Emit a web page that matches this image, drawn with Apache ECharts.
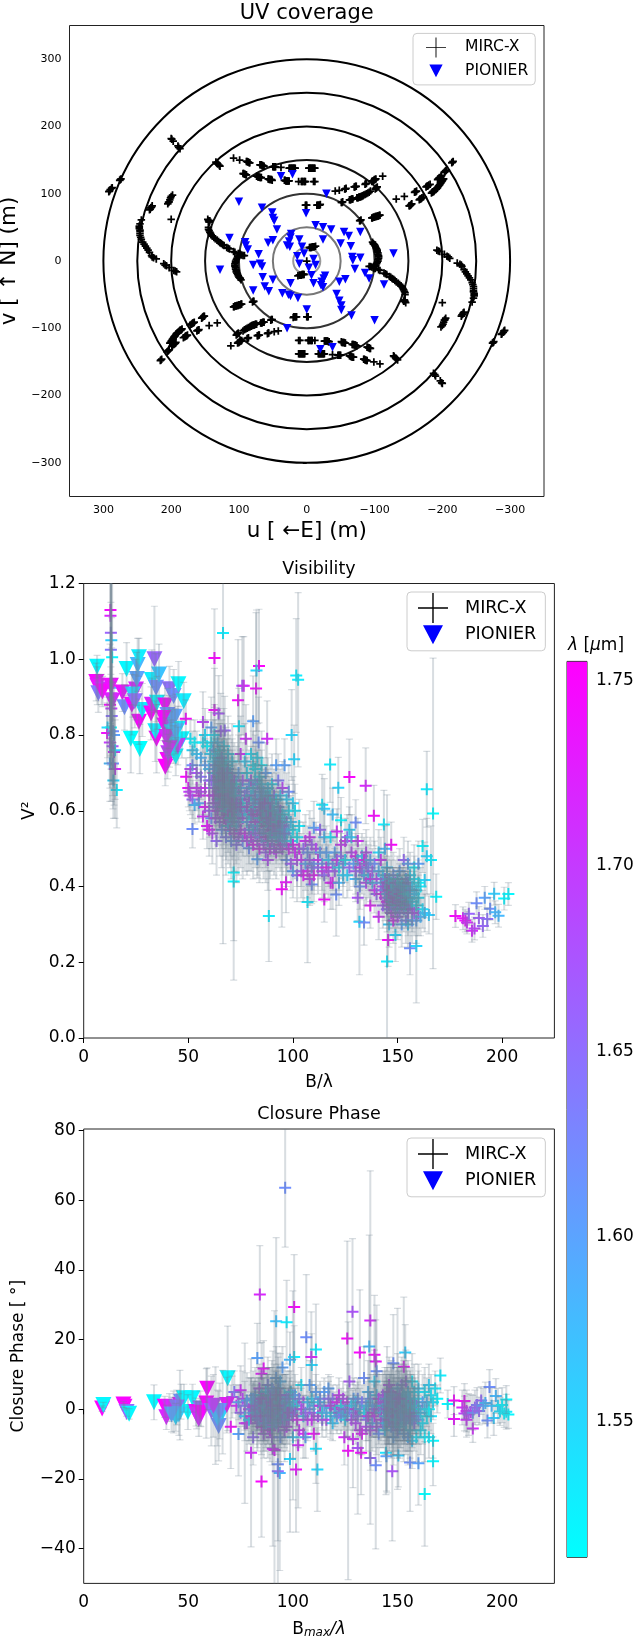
<!DOCTYPE html>
<html><head><meta charset="utf-8">
<style>html,body{margin:0;padding:0;background:#fff}#c{width:641px;height:1636px}</style>
<script src="https://cdn.jsdelivr.net/npm/echarts@6/dist/echarts.min.js"></script>
</head><body><div id="c"></div>
<script>
// ---------- UV plane (half-plane tracks [u,v]; the conjugate (-u,-v) points complete the picture)
const uvRingRadii=[20,50,100,150,200,250,300];
const uvRingColors=['#999','#777','#333','#111','#000','#000','#000'];
const uvTrackTopA=[[108,153],[99,150],[89,148],[88,148],[87,147],[86,147],[85,146],[84,146],[69,143],[68,143],[67,143],[66,142],[65,142],[64,141],[63,141],[50,140],[49,140],[48,140],[47,140],[46,140],[38,139],[26,138],[25,138],[24,138],[23,138],[22,138],[21,138],[20,138],[19,138],[18,138],[17,138],[-3,138],[-4,138],[-5,138],[-6,138],[-7,138],[-8,138],[-9,138],[-10,138],[-11,138],[-12,138]];
const uvTrackTopB=[[94,130],[93,130],[92,129],[91,129],[90,128],[89,128],[74,126],[73,126],[72,125],[71,125],[70,125],[69,124],[68,124],[67,124],[57,122],[56,122],[55,121],[54,121],[53,121],[52,121],[51,120],[33,120],[32,120],[31,119],[30,119],[29,119],[28,119],[27,119],[26,119],[12,118],[8,118],[7,118],[6,118],[4,118],[3,118],[2,118],[-10,118],[-12,118]];
const uvTrackC=[[-42,104],[-48,105],[-56,107],[-57,107],[-58,108],[-70,110],[-71,110],[-72,111],[-73,111],[-86,114],[-87,115],[-88,115],[-96,118],[-97,119],[-98,119],[-99,120],[-100,121],[-101,121],[-102,122],[-112,126]];
const uvTrackD=[[-51,87],[-52,87],[-53,88],[-63,91],[-64,91],[-65,91],[-66,92],[-67,92],[-68,92],[-74,94],[-75,94],[-76,94],[-77,95],[-78,95],[-79,95],[-80,96],[-81,96],[-82,97],[-83,97],[-84,98],[-86,99],[-88,100],[-90,101],[-92,102],[-94,104],[-101,107],[-102,108],[-103,109],[-104,110]];
const uvTrackE=[[-132,92],[-144,96],[-159,102],[-160,103],[-161,103],[-162,104],[-176,110],[-177,111],[-178,111],[-179,112],[-180,113],[-182,114],[-193,121],[-194,122],[-195,123],[-196,124],[-198,126],[-199,127],[-203,132],[-204,133],[-205,134],[-206,135],[-214,146],[-215,147],[-216,148]];
const uvTrackF=[[-151,82],[-152,82],[-153,83],[-154,84],[-155,85],[-166,91],[-167,92],[-168,92],[-169,93],[-170,94],[-172,95],[-184,101],[-185,102],[-186,103],[-187,103],[-188,104],[-190,106],[-191,107],[-192,108],[-193,109],[-194,111],[-195,112],[-196,113],[-197,115],[-198,116],[-199,118],[-200,119],[-201,121],[-202,122]];
const uvTrackInner=[[-78,60],[-79,60],[-80,61],[-96,64],[-97,64],[-98,65],[-99,65],[-100,65],[-101,66],[-102,66],[-103,66],[-104,67],[-105,67],[-106,67],[-107,68],[-108,68],[0,83],[1,83],[2,83],[-15,83],[-16,83],[-17,83],[-18,83],[-19,83],[-20,84],[-4,20],[-5,20],[-6,20],[-7,20],[-8,21],[-9,21],[-10,21],[-11,21],[-13,22]];
const uvTrackArc=[[-97,28],[-98,26],[-99,25],[-100,24],[-101,22],[-102,20],[-103,18],[-104,16],[-104,14],[-105,12],[-105,10],[-106,8],[-106,6],[-106,4],[-105,2],[-105,0],[-104,-2],[-103,-4],[-102,-6],[-100,-8],[-96,-9],[-94,-8],[-92,-8],[-98,-10],[-99,-11],[-101,-11],[-106,-13],[-108,-14],[-114,-18],[-116,-19],[-118,-20],[-122,-23],[-124,-24],[-126,-26],[-128,-27],[-130,-29],[-132,-31],[-135,-33],[-137,-35],[-139,-37],[-141,-39],[-142,-41],[-143,-43],[-144,-45],[-145,-47],[-145,-50],[-143,-60],[-144,-58]];
const uvTrackFar=[[244,61],[246,55],[247,52],[247,50],[247,48],[246,46],[246,44],[246,41],[246,38],[245,35],[244,32],[242,28],[240,25],[238,22],[236,19],[234,16],[232,13],[229,8],[228,6],[226,5],[222,3],[211,-4],[209,-6],[207,-7],[203,-10],[196,-14],[194,-15],[192,-16]];
const uvTrackOuter=[[292,103],[291,104],[290,106],[288,108],[287,109],[276,120],[275,121],[274,122],[200,182],[199,181],[197,178],[190,171],[189,169],[187,167],[134,147],[132,145],[131,144],[129,142],[128,141],[232,76],[231,77],[230,79],[229,80],[228,82],[205,85],[204,87],[203,88],[202,91],[201,94],[200,96],[198,98],[200,62],[146,62],[145,60],[144,58]];
const uvMircCentre=[[0,0]];
const uvPionier=[[100,88],[66,79],[51,72],[50,64],[48,60],[44,47],[114,34],[91,28],[90,23],[87,17],[57,27],[50,31],[23,40],[24,35],[26,29],[29,23],[25,21],[11,32],[7,21],[4,11],[14,7],[11,-4],[71,10],[79,-6],[69,-4],[66,-8],[128,-13],[65,-24],[50,-28],[62,-38],[56,-45],[79,-44],[24,-33],[36,-48],[27,-50],[24,-52],[13,-55],[0,-72],[-29,100],[38,126],[21,129],[1,71],[-13,53],[-24,50],[-36,47],[-24,32],[-55,43],[-62,37],[-79,43],[-50,26],[-65,22],[-128,11],[-67,6],[-68,1],[-79,5],[-71,-12],[-86,-18],[-92,-26],[-114,-35],[-10,3],[-13,-6],[-3,-10],[-7,-21],[-10,-33],[-27,-22],[-25,-26],[-22,-31],[-24,-39],[-21,-36],[-48,-31],[-57,-27],[-44,-49],[-48,-59],[-51,-66],[-51,-73],[-66,-81],[-100,-88],[29,-100],[-20,-131],[-38,-128]];

// ---------- Visibility [B/lambda, V2, error, wavelength]
const visPionier=[[6.4,.98,.03,1.52],[6,.94,.05,1.75],[6.5,.93,.05,1.74],[7,.91,.05,1.64],[8.5,.92,.04,1.72],[9,.915,.04,1.75],[13,.93,.05,1.74],[13.6,.89,.05,1.72],[18.5,.912,.05,1.74],[20.5,.974,.07,1.52],[19.5,.873,.06,1.62],[23,.88,.08,1.75],[22.5,.79,.09,1.51],[25,.92,.08,1.72],[25.4,.948,.07,1.6],[25.8,.985,.07,1.58],[26.4,1.005,.05,1.53],[26.8,.763,.065,1.51],[26.4,.835,.06,1.75],[28,.866,.07,1.53],[23.4,.907,.06,1.55],[24.4,.889,.07,1.65],[33.8,1,.14,1.66],[32.6,.945,.08,1.53],[34.6,.925,.09,1.62],[36,.96,.08,1.57],[32.2,.857,.07,1.75],[32.6,.88,.07,1.72],[34.8,.79,.09,1.75],[34.2,.81,.08,1.53],[35,.885,.07,1.52],[38.9,.878,.06,1.75],[41,.921,.06,1.65],[43,.903,.07,1.62],[45.3,.934,.06,1.52],[47.8,.889,.05,1.53],[38.5,.825,.07,1.74],[40,.853,.07,1.62],[41,.834,.07,1.68],[43.6,.848,.06,1.6],[45,.816,.06,1.53],[42,.807,.06,1.55],[40,.734,.05,1.75],[39,.716,.05,1.755],[40.4,.752,.05,1.7],[44,.743,.05,1.52],[46.9,.789,.05,1.52],[45,.771,.05,1.7],[41.5,.79,.05,1.64],[43,.775,.05,1.56],[42,.84,.06,1.6],[39.5,.795,.05,1.72],[41,.765,.05,1.72],[44,.81,.06,1.58],[38,.845,.06,1.75]];
const visColumn=[[12.8,1.13,.3,1.75],[12.8,1.115,.3,1.72],[13,1.07,.28,1.66],[13.2,1.05,.26,1.56],[13,1.025,.28,1.64],[13.6,1.005,.24,1.52],[13,.93,.22,1.75],[13.4,.91,.2,1.72],[13.2,.925,.3,1.58],[12.6,.88,.16,1.75],[13.2,.87,.2,1.7],[13.4,.85,.18,1.65],[11.4,.82,.08,1.55],[11.2,.805,.08,1.74],[13,.82,.14,1.52],[14,.81,.14,1.62],[14.5,.8,.14,1.6],[12.5,.78,.12,1.7],[13.8,.77,.13,1.68],[14.5,.755,.14,1.72],[15,.76,.13,1.55],[12.5,.725,.1,1.58],[14,.725,.12,1.62],[15,.71,.13,1.72],[14.2,.68,.1,1.55],[15.8,.655,.1,1.53]];
const visOutliers=[[62.5,1.003,.13,1.75],[66.6,1.069,.82,1.53],[83.8,.982,.15,1.75],[82.6,.97,.16,1.55],[75.8,.93,.13,1.68],[76.5,.93,.13,1.72],[82.4,.923,.2,1.75],[73.8,.892,.16,1.75],[101.6,.957,.15,1.53],[102.5,.946,.23,1.53],[62.5,.866,.11,1.75],[64.5,.857,.1,1.68],[48.8,.843,.05,1.75],[57,.834,.08,1.7],[81,.836,.12,1.6],[74.2,.823,.1,1.53],[67.4,.812,.09,1.66],[77.5,.79,.09,1.72],[83.6,.78,.12,1.62],[87.7,.79,.1,1.72],[99.4,.8,.12,1.55],[100.6,.736,.09,1.55],[117.8,.722,.1,1.53],[127,.689,.1,1.75],[134.8,.666,.1,1.72],[121.7,.661,.08,1.55],[164,.657,.1,1.53],[167,.593,.41,1.51],[138.7,.587,.08,1.75],[114,.616,.08,1.53],[115,.605,.08,1.56],[119,.59,.07,1.57],[130,.569,.06,1.62],[123,.575,.06,1.52],[143.5,.564,.09,1.53],[52,.552,.05,1.62],[79,.501,.06,1.62],[83,.472,.05,1.6],[71.7,.437,.18,1.52],[71.7,.413,.26,1.52],[88.5,.322,.12,1.53],[107,.359,.16,1.53],[115,.366,.06,1.75],[94.7,.393,.1,1.75],[96.7,.411,.08,1.74],[109,.405,.05,1.62],[120.7,.379,.11,1.62],[131.8,.307,.14,1.55],[134,.305,.06,1.62],[145,.202,.44,1.53],[145.5,.259,.07,1.75],[149,.272,.07,1.55],[156,.237,.07,1.62],[159,.243,.15,1.55],[162,.507,.07,1.52],[164,.48,.1,1.55],[166,.47,.09,1.53],[163,.417,.1,1.55],[168.5,.373,.06,1.52]];
const visCloudLeft=[[49,.69,.05,1.75],[50,.66,.05,1.74],[50.5,.65,.05,1.7],[51,.64,.05,1.72],[52,.63,.05,1.66],[51,.71,.05,1.7],[52,.72,.05,1.62],[52,.76,.05,1.55],[51,.79,.05,1.53],[53,.78,.06,1.52],[54,.75,.06,1.56],[54,.7,.06,1.68],[54,.66,.06,1.72],[55,.64,.06,1.74],[55,.62,.05,1.6],[53,.615,.05,1.58],[56,.65,.06,1.7],[56,.69,.06,1.65],[56,.74,.06,1.58],[57,.78,.06,1.53],[57,.585,.06,1.72],[58,.61,.06,1.74],[58,.66,.07,1.72],[58,.72,.07,1.6],[58,.8,.07,1.54],[59,.77,.07,1.52],[59,.56,.06,1.74],[60,.55,.07,1.75],[60,.6,.07,1.68],[60,.64,.07,1.72],[60,.68,.07,1.64],[60,.71,.07,1.57],[60.5,.75,.07,1.55],[61,.82,.08,1.6],[61,.78,.08,1.53],[61,.58,.08,1.62],[61.5,.54,.08,1.7]];
const visCoreA=[[62,.62,.08,1.7],[62,.66,.08,1.63],[62,.7,.08,1.68],[62,.73,.08,1.55],[62,.76,.08,1.6],[62.5,.8,.08,1.53],[63,.58,.08,1.72],[63,.61,.08,1.66],[63,.64,.09,1.58],[63,.68,.09,1.72],[63,.72,.09,1.65],[63,.75,.09,1.53],[63.5,.52,.09,1.66],[64,.6,.09,1.74],[64,.63,.09,1.64],[64,.66,.09,1.55],[64,.69,.09,1.7],[64,.72,.09,1.6],[64,.74,.09,1.52],[64,.78,.09,1.56],[65,.57,.09,1.68],[65,.62,.1,1.72],[65,.65,.1,1.62],[65,.67,.1,1.54],[65,.7,.1,1.66],[65,.73,.1,1.58],[65,.76,.1,1.52],[65.5,.81,.1,1.68],[66,.55,.1,1.62],[66,.6,.1,1.7],[66,.63,.1,1.56],[66,.66,.1,1.74],[66,.69,.1,1.6],[66,.71,.1,1.52],[66,.74,.1,1.64],[67,.58,.1,1.74],[67,.61,.1,1.6],[67,.64,.1,1.7],[67,.67,.1,1.53],[67,.7,.1,1.66],[67,.73,.1,1.56],[67,.77,.1,1.53],[68,.53,.1,1.65],[68,.57,.1,1.72],[68,.6,.1,1.54],[68,.63,.1,1.64],[68,.66,.1,1.7],[68,.69,.1,1.58],[68,.72,.1,1.52],[69,.56,.1,1.56],[69,.59,.1,1.74],[69,.62,.1,1.62],[69,.65,.1,1.68],[69,.68,.1,1.54],[69,.71,.1,1.6],[69,.75,.1,1.53],[70,.55,.1,1.7],[70,.58,.1,1.52],[70,.61,.1,1.66],[70,.64,.1,1.58],[70,.67,.1,1.72],[70,.7,.1,1.55],[70.5,.52,.1,1.62],[71,.57,.1,1.64],[71,.6,.1,1.72],[71,.63,.1,1.54],[71,.66,.1,1.68],[71,.69,.1,1.6],[71,.73,.1,1.53],[72,.54,.1,1.74],[72,.58,.1,1.6],[72,.62,.1,1.68],[72,.65,.1,1.55],[72,.68,.1,1.7],[73,.51,.1,1.66],[73,.56,.1,1.56],[73,.6,.1,1.72],[73,.63,.1,1.62],[73,.67,.1,1.52],[74,.53,.1,1.7],[74,.57,.1,1.64],[74,.61,.1,1.54],[74,.65,.1,1.7],[74,.7,.1,1.6],[75,.55,.1,1.72],[75,.59,.1,1.56],[75,.63,.1,1.66],[75,.66,.1,1.58],[75,.75,.1,1.72],[76,.52,.1,1.62],[76,.58,.1,1.7],[76,.62,.1,1.53],[76,.68,.1,1.68],[77,.54,.1,1.74],[77,.6,.1,1.6],[77,.64,.1,1.66],[77,.73,.1,1.55]];
const visCoreB=[[78,.52,.09,1.7],[78,.57,.09,1.58],[78,.61,.09,1.72],[78,.65,.09,1.64],[78,.7,.09,1.53],[79,.55,.09,1.66],[79,.59,.09,1.54],[79,.63,.09,1.7],[79,.67,.09,1.6],[80,.53,.09,1.72],[80,.57,.09,1.62],[80,.6,.09,1.68],[80,.64,.09,1.54],[80,.68,.09,1.7],[80,.75,.09,1.53],[81,.51,.09,1.75],[81,.55,.09,1.58],[81,.59,.09,1.7],[81,.62,.09,1.62],[81,.66,.09,1.56],[81,.72,.09,1.52],[82,.54,.09,1.66],[82,.57,.09,1.72],[82,.61,.09,1.54],[82,.64,.09,1.66],[82,.68,.09,1.58],[82,.71,.09,1.52],[83,.52,.09,1.7],[83,.56,.09,1.6],[83,.59,.09,1.74],[83,.63,.09,1.56],[83,.67,.09,1.64],[83,.74,.09,1.53],[84,.5,.09,1.75],[84,.54,.09,1.68],[84,.58,.09,1.55],[84,.61,.09,1.7],[84,.65,.09,1.6],[84,.69,.09,1.53],[85,.53,.09,1.62],[85,.57,.09,1.72],[85,.6,.09,1.58],[85,.63,.09,1.68],[85,.67,.09,1.54],[85,.72,.09,1.52],[86,.51,.09,1.7],[86,.55,.09,1.64],[86,.59,.09,1.7],[86,.62,.09,1.55],[86,.65,.09,1.6],[87,.49,.08,1.68],[87,.53,.08,1.74],[87,.57,.08,1.56],[87,.61,.08,1.66],[87,.64,.08,1.53],[87,.7,.08,1.6],[88,.47,.08,1.7],[88,.52,.08,1.62],[88,.56,.08,1.7],[88,.59,.08,1.54],[88,.63,.08,1.64],[88,.66,.08,1.56],[89,.5,.08,1.74],[89,.54,.08,1.58],[89,.58,.08,1.7],[89,.61,.08,1.6],[89,.64,.08,1.52],[90,.52,.08,1.66],[90,.55,.08,1.72],[90,.59,.08,1.55],[90,.62,.08,1.62],[90,.67,.08,1.53],[91,.5,.07,1.7],[91,.54,.07,1.6],[91,.57,.07,1.68],[91,.6,.07,1.54],[91,.64,.07,1.66],[92,.49,.07,1.72],[92,.53,.07,1.56],[92,.56,.07,1.7],[92,.59,.07,1.58],[92,.63,.07,1.53],[92,.72,.07,1.6],[93,.52,.07,1.66],[93,.55,.07,1.55],[93,.58,.07,1.7],[93,.61,.07,1.6],[93,.68,.07,1.64],[94,.51,.07,1.74],[94,.54,.07,1.62],[94,.57,.07,1.54],[94,.6,.07,1.68],[94,.64,.07,1.56],[95,.5,.07,1.7],[95,.53,.07,1.56],[95,.56,.07,1.66],[95,.59,.07,1.52],[95,.66,.07,1.7],[96,.52,.07,1.6],[96,.55,.07,1.72],[96,.58,.07,1.55],[96,.72,.07,1.6],[97,.47,.07,1.62],[97,.51,.07,1.66],[97,.54,.07,1.54],[97,.57,.07,1.64],[97,.63,.07,1.55],[98,.5,.07,1.74],[98,.55,.07,1.6],[98,.6,.07,1.53],[98,.65,.07,1.62],[99,.46,.07,1.68],[99,.52,.07,1.55],[99,.57,.07,1.56],[100,.44,.07,1.6],[100,.51,.07,1.75],[100,.55,.07,1.52],[100,.62,.07,1.55],[101,.49,.07,1.72],[101,.6,.07,1.53]];
const visCoreDense=[[61,.68,.08,1.66],[62,.64,.08,1.74],[62.5,.71,.08,1.6],[63,.66,.08,1.68],[63.5,.7,.09,1.56],[64,.65,.09,1.7],[64.5,.68,.09,1.64],[65,.64,.09,1.74],[65.5,.67,.09,1.6],[66,.7,.09,1.68],[66.5,.65,.09,1.56],[67,.68,.09,1.72],[67.5,.63,.09,1.64],[68,.67,.09,1.6],[68.5,.7,.09,1.66],[69,.64,.09,1.72],[69.5,.67,.09,1.58],[70,.63,.09,1.68],[70.5,.66,.09,1.62],[71,.62,.09,1.74],[71.5,.65,.09,1.6],[72,.61,.09,1.66],[72.5,.64,.09,1.56],[73,.62,.09,1.7],[74,.6,.09,1.62],[75,.61,.09,1.7],[84,.62,.08,1.64],[84.5,.6,.08,1.7],[85,.64,.08,1.6],[85.5,.61,.08,1.68],[86,.58,.08,1.56],[86.5,.62,.08,1.72],[87,.6,.08,1.62],[87.5,.58,.08,1.7],[88,.6,.08,1.58],[88.5,.57,.08,1.66],[89,.6,.08,1.72],[89.5,.56,.08,1.6],[90,.58,.08,1.68],[90.5,.6,.08,1.56],[91,.56,.07,1.7],[91.5,.58,.07,1.62],[92,.55,.07,1.66],[92.5,.57,.07,1.54],[93,.56,.07,1.72],[93.5,.54,.07,1.6],[94,.56,.07,1.66],[95,.55,.07,1.58],[96,.54,.07,1.64],[144,.38,.05,1.68],[145,.4,.05,1.62],[146,.38,.05,1.72],[146.5,.4,.05,1.58],[147,.39,.05,1.66],[147.5,.37,.05,1.74],[148,.4,.05,1.6],[148.5,.38,.05,1.7],[149,.37,.05,1.56],[149.5,.39,.05,1.66],[150,.38,.05,1.72],[150.5,.4,.05,1.6],[151,.37,.05,1.68],[151.5,.39,.05,1.56],[152,.38,.05,1.62],[152.5,.4,.05,1.58],[153,.37,.05,1.66],[153.5,.39,.05,1.56],[154,.38,.05,1.6],[155,.39,.05,1.56],[156,.38,.05,1.54]];
const visMid=[[102,.43,.07,1.65],[102,.47,.07,1.7],[102,.53,.07,1.52],[103,.5,.07,1.74],[103,.56,.07,1.53],[104,.44,.07,1.68],[104,.47,.07,1.72],[105,.43,.07,1.75],[105,.5,.07,1.66],[106,.46,.07,1.6],[106,.52,.07,1.72],[107,.44,.07,1.74],[107,.49,.07,1.62],[108,.42,.07,1.72],[108,.47,.07,1.68],[108,.53,.07,1.72],[109,.45,.07,1.64],[109,.51,.07,1.68],[110,.43,.07,1.75],[110,.46,.07,1.62],[110,.555,.07,1.6],[111,.5,.07,1.7],[112,.45,.07,1.66],[112,.47,.07,1.72],[113,.49,.07,1.6],[113,.55,.07,1.66],[114,.44,.07,1.72],[114,.46,.07,1.62],[115,.43,.07,1.66],[115,.53,.07,1.58],[116,.45,.07,1.74],[116,.49,.07,1.6],[117,.44,.07,1.7],[117,.47,.07,1.56],[118,.41,.07,1.72],[118,.53,.07,1.53],[119,.41,.07,1.75],[119,.46,.07,1.62],[120,.44,.06,1.68],[120,.49,.06,1.6],[121,.47,.06,1.72],[121,.545,.06,1.72],[122,.41,.06,1.58],[122,.45,.06,1.54],[123,.48,.06,1.66],[123,.51,.06,1.72],[124,.43,.06,1.56],[124,.46,.06,1.62],[125,.52,.06,1.72],[125,.47,.06,1.53],[126,.43,.06,1.55],[126,.53,.06,1.64],[127,.45,.06,1.66],[127,.55,.06,1.55],[128,.49,.06,1.7],[128,.53,.06,1.56],[129,.46,.06,1.6],[130,.42,.06,1.58],[130,.44,.06,1.68],[130,.48,.06,1.74],[131,.37,.06,1.68],[131,.47,.06,1.62],[131,.52,.06,1.72],[132,.4,.06,1.62],[132,.45,.06,1.72],[133,.44,.06,1.66],[133,.48,.06,1.55],[134,.43,.06,1.6],[134,.47,.06,1.74],[135,.41,.06,1.7],[135,.46,.06,1.66],[135,.49,.06,1.7],[136,.43,.06,1.56],[136,.45,.06,1.64],[137,.35,.06,1.74],[137,.42,.06,1.72],[137,.47,.06,1.6],[138,.44,.06,1.68],[138,.41,.06,1.58],[139,.39,.06,1.72],[139,.46,.06,1.62],[140,.42,.06,1.7],[140,.38,.06,1.66],[141,.32,.06,1.72],[141,.44,.06,1.58],[141,.49,.06,1.55]];
const visEnd=[[142,.38,.06,1.74],[142,.41,.06,1.6],[142,.47,.06,1.72],[143,.35,.06,1.68],[143,.4,.06,1.7],[143,.43,.06,1.56],[144,.37,.06,1.72],[144,.39,.06,1.62],[144,.42,.06,1.66],[144,.5,.06,1.58],[145,.34,.06,1.66],[145,.36,.06,1.75],[145,.38,.06,1.6],[145,.41,.06,1.7],[145,.45,.06,1.56],[146,.35,.06,1.7],[146,.37,.06,1.62],[146,.39,.06,1.74],[146,.42,.06,1.58],[146,.3,.06,1.56],[147,.33,.06,1.72],[147,.36,.06,1.6],[147,.38,.06,1.7],[147,.41,.06,1.55],[147,.51,.06,1.75],[148,.31,.06,1.75],[148,.35,.06,1.66],[148,.37,.06,1.72],[148,.39,.06,1.58],[148,.43,.06,1.62],[149,.34,.06,1.64],[149,.36,.06,1.74],[149,.38,.06,1.6],[149,.41,.06,1.68],[150,.32,.06,1.7],[150,.35,.06,1.56],[150,.37,.06,1.7],[150,.39,.06,1.62],[150,.42,.06,1.55],[151,.33,.06,1.66],[151,.36,.06,1.64],[151,.38,.06,1.72],[151,.4,.06,1.58],[151,.44,.06,1.6],[152,.3,.06,1.6],[152,.35,.06,1.7],[152,.37,.06,1.56],[152,.39,.06,1.66],[152,.41,.06,1.53],[153,.34,.06,1.62],[153,.36,.06,1.68],[153,.38,.06,1.54],[153,.4,.06,1.6],[153,.47,.06,1.66],[154,.31,.06,1.64],[154,.35,.06,1.56],[154,.37,.06,1.66],[154,.39,.06,1.55],[154,.42,.06,1.62],[155,.3,.06,1.56],[155,.33,.06,1.68],[155,.36,.06,1.6],[155,.38,.06,1.53],[155,.41,.06,1.64],[155,.46,.06,1.6],[156,.35,.06,1.66],[156,.37,.06,1.56],[156,.39,.06,1.62],[156,.43,.06,1.54],[157,.31,.06,1.62],[157,.34,.06,1.7],[157,.36,.06,1.54],[157,.4,.06,1.55],[158,.33,.06,1.68],[158,.38,.06,1.56],[158,.42,.06,1.53],[158,.45,.06,1.52],[159,.35,.06,1.52],[159,.39,.06,1.55],[159,.31,.06,1.6],[160,.33,.06,1.7],[160,.37,.06,1.53],[160,.41,.06,1.52],[160,.46,.06,1.6],[161,.32,.05,1.58],[161,.4,.05,1.53],[162,.34,.05,1.54],[163,.33,.05,1.57],[165,.325,.05,1.56]];
const visTail=[[177.7,.322,.03,1.75],[181.3,.316,.03,1.74],[182.4,.31,.03,1.74],[183.2,.305,.03,1.72],[185.6,.283,.03,1.72],[186.8,.289,.03,1.7],[190.8,.296,.03,1.66],[188.9,.317,.03,1.67],[184.1,.328,.03,1.66],[187.8,.356,.03,1.62],[192.9,.314,.03,1.65],[191.7,.37,.03,1.6],[194.3,.341,.03,1.62],[196.2,.381,.03,1.56],[196.7,.332,.03,1.58],[198.3,.323,.03,1.58],[201,.368,.03,1.52],[203,.38,.03,1.52]];

// ---------- Closure phase [Bmax/lambda, CP, error, wavelength]
const cpPionier=[[8.8,.2,.8,1.75],[9.4,1.2,.8,1.52],[19,1.4,.9,1.75],[19.5,.7,.9,1.75],[20.5,-.8,1.2,1.66],[21.7,-1.3,1.5,1.52],[33.6,2,5,1.52],[38.7,.7,3,1.75],[39.5,-2.3,3.5,1.72],[43,-.8,6,1.75],[44,-2.3,4,1.55],[46,1.2,10,1.74],[46.5,2.2,5,1.62],[47.9,3.2,4,1.52],[52,3.2,4,1.52],[49.8,-.8,5,1.52],[53.7,-.8,4,1.75],[55,-2.8,5,1.72],[55.7,.2,5,1.66],[59,5.9,6,1.75],[58.6,1.7,10,1.75],[63,-1.8,14,1.6],[64.5,-4.8,10,1.62],[66.4,-.8,12,1.55],[68.8,8.9,15,1.52],[68.4,1.2,8,1.74],[41,.5,4,1.72],[44.5,.5,5,1.64],[45.5,-1.5,6,1.56],[42,-1.5,5,1.6],[54,-1.6,4,1.72],[56,-1,4,1.75],[61,-.5,10,1.66],[64,-2.5,8,1.58],[65,-.5,8,1.62],[62,1,9,1.7]];
const cpOutliers=[[96.3,63.6,17,1.62],[84.2,33,14,1.72],[100.6,29.4,15,1.75],[128.5,28,21,1.68],[137,25.5,43,1.72],[126,20.3,28,1.75],[92,25.3,24,1.57],[97,25,12,1.53],[106.4,20.7,18,1.62],[111,17.2,13,1.53],[136.5,18,32,1.58],[132,16.3,18,1.75],[139,15.7,17,1.75],[153.7,16.3,8,1.56],[108.8,15,13,1.72],[109,12.7,9,1.55],[100.6,15,9,1.53],[98.6,14.2,8,1.58],[83,14.7,10,1.6],[139.6,13.7,12,1.74],[148,13.2,14,1.62],[153,12.2,20,1.75],[140,10.9,19,1.62],[86,11.7,8,1.75],[85,10.2,9,1.74],[170.5,9.7,5,1.53],[85,-20.7,16,1.75],[101.5,-17.3,18,1.74],[111.7,-17.3,12,1.55],[93.7,-18.3,28,1.58],[92.8,-17.8,34,1.65],[92.8,-15.8,22,1.62],[98.6,-14.3,21,1.55],[80,-12.5,27,1.72],[90.4,-11.3,28,1.72],[91.2,-11.7,40,1.74],[102.5,-10.3,18,1.72],[111,-11.3,10,1.54],[74,-7.1,12,1.6],[70.3,-5,12,1.75],[124.6,-8,8,1.72],[126.4,-11.9,37,1.75],[128.7,-8.5,14,1.72],[131,-11.1,19,1.68],[132.6,-12.5,12,1.75],[137,-14,19,1.66],[139.6,-16.1,24,1.62],[144.5,-12.5,12,1.54],[144.7,-13.5,10,1.6],[147.5,-17.8,20,1.68],[150.4,-13.3,9,1.56],[156,-15.3,14,1.62],[160,-15.5,12,1.6],[167,-14.9,7,1.52],[163,-24.3,15,1.51],[77,-4,23,1.7],[150,3,26,1.62],[145,-3,21,1.6],[118,.4,9,1.58],[100,4,30,1.6]];
const cpCloudA=[[71,3.5,6,1.7],[72,5,6,1.64],[73,1,6,1.72],[74,2,5,1.6],[75,-1,6,1.66],[75,5.5,7,1.72],[76,3,8,1.7],[77,-2,7,1.56],[77,1,7,1.64],[78,-4,8,1.72],[78,2.5,8,1.6],[79,0,9,1.7],[79,-3,7,1.55],[80,1,8,1.66],[80,-2,7,1.74],[80,3,6,1.58],[81,-8,8,1.66],[81,.5,7,1.72],[81,-1,9,1.6],[82,2,7,1.54],[82,-2,7,1.7],[82,4,8,1.62],[83,-1,8,1.74],[83,1,7,1.56],[83,-4,8,1.7],[84,0,6,1.64],[84,3,9,1.66],[84,-3,7,1.55],[84,6,7,1.72],[85,-1,8,1.6],[85,2,7,1.7],[85,-5,8,1.74],[85,4,6,1.54],[86,-2,8,1.66],[86,0,9,1.58],[86,3,8,1.72],[86,-7,7,1.7],[87,1,9,1.62],[87,-3,8,1.74],[87,5,7,1.55],[87,-1,8,1.68],[88,2,8,1.6],[88,-5,9,1.72],[88,0,10,1.53],[88,7,8,1.65],[89,-2,9,1.7],[89,1,8,1.58],[89,4,8,1.66],[89,-6,9,1.74],[90,0,10,1.62],[90,3,9,1.56],[90,-3,8,1.72],[90,6,8,1.6],[90,-8,8,1.7],[91,1,10,1.66],[91,-1,9,1.54],[91,5,8,1.62],[91,-4,8,1.72],[92,2,9,1.56],[92,-2,11,1.7],[92,9,9,1.6],[92,0,8,1.64],[93,-5,10,1.7],[93,3,8,1.58],[93,-1,10,1.53],[93,6,9,1.62],[94,1,8,1.72],[94,-3,9,1.6],[94,8,8,1.58],[94,-8,8,1.62],[95,0,10,1.66],[95,2,8,1.55],[95,-2,8,1.74],[95,12,6,1.6],[96,1,9,1.62],[96,-6,9,1.7],[96,4,8,1.54],[97,-2,8,1.68],[97,2,8,1.58],[97,-5,7,1.72],[98,1,7,1.52],[98,4,7,1.65],[98,-3,7,1.7],[99,0,7,1.6],[99,5,6,1.55],[100,-2,7,1.7],[100,2,6,1.52],[100,-8,6,1.56],[101,0,6,1.66],[101,4,6,1.6],[102,-3,6,1.74],[102,1,6,1.55],[103,-6,5,1.72],[103,3,5,1.64],[104,0,6,1.7],[104,7,5,1.53],[105,-2,6,1.58],[105,2,5,1.7],[105,-7,7,1.72],[106,-1,5,1.66],[106,-8,6,1.6],[107,2,5,1.56],[107,-3,6,1.7],[108,0,5,1.62],[108,7,7,1.6],[109,-3,5,1.72],[109,3,5,1.55],[110,-1,5,1.68],[110,-7,5,1.75],[110,1,5,1.58],[111,5,5,1.6]];
const cpCoreDenseA=[[80.5,0,7,1.62],[81.5,1,7,1.7],[82.5,-1,7,1.58],[83.5,2,7,1.66],[84.5,-2,7,1.72],[85.5,1,8,1.56],[86.5,-1,8,1.64],[87.5,2,8,1.7],[88.5,-1,8,1.6],[89.5,0,8,1.66],[90.5,-2,8,1.72],[91.5,2,8,1.58],[92.5,-1,8,1.64],[93.5,1,8,1.7],[94.5,-2,8,1.56],[95.5,0,8,1.66],[96.5,2,8,1.6],[97.5,-1,7,1.72],[98.5,2,7,1.58],[99.5,-1,7,1.64],[81,3,8,1.6],[83,-3,8,1.66],[85,3,8,1.72],[87,-4,8,1.6],[89,3,9,1.7],[91,-3,9,1.62],[93,4,9,1.56],[95,-3,9,1.7],[97,3,8,1.64],[84,1,8,1.7],[86,1,8,1.6],[88,-2,8,1.66],[90,1,8,1.7],[92,-4,8,1.6],[94,-1,8,1.66],[96,-1,8,1.58],[98,-1,7,1.7],[82,0,7,1.66],[86,-4,8,1.62],[90,-5,8,1.6],[94,4,8,1.7],[88,4,8,1.6],[92,4,8,1.7],[96,-3,8,1.62]];
const cpCloudMid=[[112,-2,5,1.7],[112,2,5,1.56],[113,1,5,1.72],[113,3,5,1.62],[114,-3,5,1.66],[114,-1,5,1.54],[115,1,5,1.6],[115,5,4,1.6],[116,-3,5,1.7],[116,-1,5,1.58],[117,3,5,1.66],[117,6,4,1.6],[118,-2,5,1.55],[118,1,5,1.72],[119,3,4,1.65],[119,-4,5,1.56],[120,0,5,1.7],[120,-1,5,1.54],[121,2,5,1.74],[121,-2,5,1.6],[122,-1,5,1.66],[122,4,5,1.72],[123,1,5,1.54],[123,-2,5,1.62],[124,3,5,1.7],[124,-1,5,1.58],[125,0,5,1.66],[125,-3,5,1.54],[126,2,5,1.72],[126,-2,6,1.6],[127,0,6,1.62],[127,8,5,1.68],[128,-3,6,1.7],[128,1,5,1.55],[129,-1,5,1.64],[129,3,6,1.6],[130,-4,6,1.7],[130,0,6,1.72],[130,2,5,1.55],[131,-2,6,1.66],[131,3,6,1.62],[132,-6,7,1.72],[132,0,6,1.58],[133,2,5,1.64],[133,-7,6,1.74],[134,-1,6,1.54],[134,9,9,1.62],[135,-5,7,1.7],[135,1,7,1.6],[135,-3,6,1.66],[136,5,9,1.58],[136,-2,7,1.72],[136,1,8,1.56],[137,-6,8,1.7],[137,3,7,1.62],[138,-1,7,1.74],[138,1,9,1.58],[138,-4,8,1.6],[139,0,8,1.66],[139,8,9,1.55],[139,-2,9,1.72],[140,1,9,1.6],[140,-5,8,1.7],[140,4,10,1.56],[141,0,10,1.7],[141,-7,8,1.62],[141,3,8,1.72]];
const cpCloudB=[[142,-1,8,1.58],[142,2,8,1.68],[142,-3,8,1.72],[143,-4,7,1.62],[143,1,9,1.54],[143,4,7,1.7],[144,0,8,1.66],[144,-2,8,1.58],[144,3,9,1.72],[144,-6,7,1.55],[145,1,9,1.62],[145,-1,9,1.74],[145,5,7,1.68],[145,-4,9,1.56],[146,0,10,1.7],[146,3,8,1.6],[146,-3,9,1.64],[146,7,8,1.72],[147,-1,9,1.55],[147,2,10,1.7],[147,-5,9,1.62],[147,5,9,1.74],[148,0,10,1.58],[148,-2,11,1.68],[148,4,9,1.72],[148,-8,8,1.6],[149,1,10,1.64],[149,-1,9,1.54],[149,3,10,1.7],[149,-4,9,1.6],[150,0,9,1.72],[150,6,10,1.58],[150,-6,8,1.66],[150,2,10,1.55],[151,-2,9,1.7],[151,1,10,1.6],[151,4,9,1.66],[151,-5,9,1.56],[152,0,9,1.7],[152,3,10,1.62],[152,-3,10,1.54],[152,7,8,1.66],[153,1,10,1.58],[153,-1,9,1.7],[153,-7,8,1.6],[153,4,10,1.54],[154,0,9,1.66],[154,2,11,1.6],[154,-4,9,1.55],[154,8,9,1.7],[155,-2,10,1.58],[155,1,9,1.72],[155,5,9,1.55],[155,-8,8,1.6],[156,0,10,1.52],[156,3,9,1.66],[156,-3,9,1.6],[156,-6,8,1.54],[157,1,8,1.7],[157,-1,9,1.56],[157,8,8,1.52],[157,-9,8,1.55],[158,2,8,1.6],[158,-4,8,1.66],[158,0,7,1.54],[158,5,8,1.53],[159,-2,8,1.58],[159,1,7,1.7],[159,-8,7,1.53],[160,3,8,1.54],[160,-3,7,1.62],[160,0,7,1.52],[160,6,7,1.55],[161,-1,7,1.56],[161,-6,7,1.53],[162,2,8,1.6],[162,-4,6,1.53],[163,0,7,1.56],[163,-8,7,1.52],[163,5,7,1.53],[164,-2,6,1.52],[164,2,7,1.58],[165,7,6,1.55],[165,-8,6,1.53],[165,0,6,1.52],[166,4,6,1.53],[166,-2,5,1.54],[167,-9,5,1.52],[167,2,5,1.54],[168,6,5,1.53],[169,3,4,1.52]];
const cpCoreDenseB=[[143.5,0,8,1.62],[144.5,2,8,1.7],[145.5,-1,9,1.58],[146.5,1,9,1.66],[147.5,-2,9,1.72],[148.5,1,9,1.56],[149.5,-1,9,1.64],[150.5,2,9,1.7],[151.5,-2,9,1.6],[152.5,1,9,1.66],[153.5,-1,9,1.56],[154.5,2,9,1.62],[155.5,-1,9,1.7],[156.5,1,9,1.56],[157.5,-2,8,1.62],[158.5,1,8,1.55],[144,3,8,1.6],[146,-3,9,1.7],[148,3,9,1.62],[150,-3,9,1.66],[152,3,9,1.56],[154,-3,9,1.62],[156,3,8,1.54],[145,0,9,1.68],[147,1,9,1.6],[149,0,9,1.7],[151,0,9,1.58],[153,0,9,1.64],[155,0,9,1.56],[157,-3,8,1.6],[146,-1,9,1.62],[148,-4,9,1.66],[150,3,9,1.7],[152,-1,9,1.6],[154,3,9,1.56],[156,-2,8,1.66],[147,4,9,1.62],[149,-3,9,1.56],[151,3,9,1.7],[153,-3,9,1.62]];
const cpTail=[[174,1.5,4,1.52],[177,2.5,4,1.75],[177,-2.8,5,1.74],[181,.5,5,1.72],[182,2.4,5,1.75],[182,-1.2,5,1.7],[183,-.5,6,1.72],[183,-3,5,1.72],[184,-1.5,6,1.68],[185,-.8,5,1.7],[186,-5.5,4,1.72],[186,-1,5,1.62],[187,.5,5,1.66],[188,1.2,5,1.64],[189,-.5,4,1.66],[190,2.5,4,1.66],[191,1,5,1.6],[192,1.8,6,1.58],[193,-3.2,5,1.62],[194,6.4,5,1.62],[195,1,5,1.58],[196,-2.5,5,1.56],[197,3.8,5,1.58],[198,1,5,1.55],[199,-.6,4,1.54],[201,-1.2,4,1.52],[202,2.8,4,1.52],[202,-.7,5,1.53],[203,-1.5,4,1.52],[200,1.2,5,1.52]];

// ---------- tick labels / ranges
const uvTicks=[-300,-200,-100,0,100,200,300];
const blTicks=[0,50,100,150,200];
const visTicks=[0,.2,.4,.6,.8,1,1.2];
const cpTicks=[-40,-20,0,20,40,60,80];
const wlTicks=[1.55,1.6,1.65,1.7,1.75];
const wlMin=1.5135,wlMax=1.7551;

const uvMirc=[].concat(uvTrackTopA,uvTrackTopB,uvTrackC,uvTrackD,uvTrackE,uvTrackF,uvTrackInner,uvTrackArc,uvTrackFar,uvTrackOuter);
const uvMircAll=uvMirc.concat(uvMirc.map(p=>[-p[0],-p[1]]),uvMircCentre);
const visMirc=[].concat(visColumn,visOutliers,visCloudLeft,visCoreA,visCoreB,visCoreDense,visMid,visEnd,visTail);
const cpMirc=[].concat(cpOutliers,cpCloudA,cpCoreDenseA,cpCloudMid,cpCloudB,cpCoreDenseB,cpTail);

const PLUS='path://M5 0H7V12H5Z M0 5H12V7H0Z';
const PLUS_UV='path://M4.6 0H7.4V12H4.6Z M0 4.6H12V7.4H0Z';
const TRI='path://M0 0H12L6 11Z';
const LEG_PLUS='path://M0 0h.01v.01z M14.3 0H15.7V30H14.3Z M0 14.3H30V15.7H0Z M30 30h.01v.01z';
const LEG_TRI='path://M0 0h.01v.01z M5 5.5H25L15 24.5Z M30 30h.01v.01z';
const ERR='rgba(112,128,144,0.27)';

function fmt(v){return String(v).replace('-','\u2212');}
function errItem(capPx){return function(params,api){
  const x=api.value(0),y=api.value(1),e=api.value(2);
  const a=api.coord([x,y-e]),b=api.coord([x,y+e]);
  const st={stroke:ERR,lineWidth:2,fill:null};
  const st2={stroke:ERR,lineWidth:1.2,fill:null};
  return {type:'group',children:[
    {type:'line',shape:{x1:a[0],y1:a[1],x2:b[0],y2:b[1]},style:st},
    {type:'line',shape:{x1:a[0]-capPx,y1:a[1],x2:a[0]+capPx,y2:a[1]},style:st2},
    {type:'line',shape:{x1:b[0]-capPx,y1:b[1],x2:b[0]+capPx,y2:b[1]},style:st2}]};
};}
const frame={show:true,borderColor:'#222',borderWidth:1,backgroundColor:'#fff',outerBoundsMode:'none',containLabel:false};
function axis(o){
  const f=o.font,vals=o.ticks;
  return Object.assign({type:'value',min:o.min,max:o.max,inverse:!!o.inverse,position:o.position,
    name:o.name,nameLocation:'middle',nameGap:o.gap,nameTextStyle:Object.assign({fontFamily:'DejaVu Sans',fontSize:o.nameSize,color:'#000'},o.nameStyle||{}),
    axisLine:{show:false},splitLine:{show:false},
    axisTick:{show:true,length:o.tick||4,inside:false,lineStyle:{color:'#000',width:1},customValues:vals},
    axisLabel:{show:true,fontFamily:'DejaVu Sans',fontSize:f,color:'#000',margin:o.margin,hideOverlap:false,customValues:vals,formatter:o.fmt||fmt}},{gridIndex:o.grid});
}
function legend(left,top,iw,ih,gap,font,pt,pl,pr,tg){
  return {left:left,top:top,orient:'vertical',selectedMode:false,itemWidth:iw,itemHeight:ih,itemGap:gap,
    padding:[pt,pr,pt,pl],backgroundColor:'rgba(255,255,255,.8)',borderColor:'#ccc',borderWidth:1,borderRadius:4,
    textStyle:{fontFamily:'DejaVu Sans',fontSize:font,color:'#000',padding:[0,0,0,tg]},
    data:[{name:'MIRC-X',icon:LEG_PLUS},{name:'PIONIER',icon:LEG_TRI}]};
}
function titleAt(text,x,y,size,rich){return {text:text,left:x,top:y-size*.45,padding:0,textAlign:'center',
  textStyle:{fontFamily:'DejaVu Sans',fontSize:size,fontWeight:'normal',color:'#000',rich:rich}};}

const oblique={fontFamily:'DejaVu Sans',fontStyle:'italic',fontSize:17,color:'#000'};
const option={
  animation:false,backgroundColor:'#fff',
  title:[titleAt('UV coverage',306.7,12,21),titleAt('Visibility',319,568,17.5),titleAt('Closure Phase',319,1113.5,17.5),
    titleAt('{i|\u03bb} [{i|\u03bc}m]',596,645,17,{i:oblique})],
  grid:[
    Object.assign({left:69.5,top:25.5,width:474.5,height:471},frame),
    Object.assign({left:83.7,top:583.5,width:470.7,height:454.5},frame),
    Object.assign({left:83.7,top:1129,width:470.7,height:454.4},frame),
    Object.assign({left:567,top:661.4,width:20,height:895.9},frame)],
  xAxis:[
    axis({grid:0,min:-350,max:350,inverse:true,ticks:uvTicks,font:11,margin:8,name:'u [ \u2190E] (m)',nameSize:21.5,gap:24}),
    axis({grid:1,min:0,max:225,ticks:blTicks,font:17,margin:11,name:'B/\u03bb',nameSize:17,gap:36,tick:5}),
    axis({grid:2,min:0,max:225,ticks:blTicks,font:17,margin:11,name:'{a|B}{b|max}{c|/\u03bb}',nameSize:17,gap:37,tick:5,
      nameStyle:{rich:{a:{fontSize:17,fontFamily:'DejaVu Sans',color:'#000'},b:{fontSize:12,fontStyle:'italic',fontFamily:'DejaVu Sans',color:'#000',verticalAlign:'bottom',padding:[6,0,0,0]},c:{fontSize:17,fontStyle:'italic',fontFamily:'DejaVu Sans',color:'#000'}}}}),
    {gridIndex:3,type:'value',min:0,max:1,show:false}],
  yAxis:[
    axis({grid:0,min:-350,max:350,ticks:uvTicks,font:11,margin:8,name:'v [ \u2191 N] (m)',nameSize:21.5,gap:41}),
    axis({grid:1,min:0,max:1.2,ticks:visTicks,font:17,margin:8,name:'V\u00b2',nameSize:17,gap:46,tick:5,fmt:v=>(+v).toFixed(1)}),
    axis({grid:2,min:-50,max:80.5,ticks:cpTicks,font:17,margin:8,name:'Closure Phase [ \u00b0]',nameSize:17,gap:57,tick:5}),
    axis({grid:3,min:wlMin,max:wlMax,ticks:wlTicks,font:17,margin:9,position:'right',tick:5,fmt:v=>(+v).toFixed(2)})],
  legend:[legend(413,33.4,32,20,3.5,15.6,4,13,7,8),legend(407,592,36,30,-3.2,17.6,1,11,9,9),legend(407,1138,36,30,-3.2,17.6,1,11,9,9)],
  visualMap:[{show:false,type:'continuous',min:wlMin,max:wlMax,dimension:3,seriesIndex:[4,5,8,9],inRange:{color:['#00ffff','#ff00ff']}}],
  series:[
    {type:'custom',xAxisIndex:0,yAxisIndex:0,coordinateSystem:'cartesian2d',clip:true,z:1,silent:true,data:uvRingRadii.map((r,i)=>[r,i]),
      renderItem:(p,api)=>{const c=api.coord([0,0]),e=api.coord([api.value(0),api.value(0)]);
        return {type:'ellipse',shape:{cx:c[0],cy:c[1],rx:Math.abs(e[0]-c[0]),ry:Math.abs(e[1]-c[1])},style:{fill:null,stroke:uvRingColors[api.value(1)],lineWidth:2}};}},
    {type:'scatter',name:'MIRC-X',xAxisIndex:0,yAxisIndex:0,data:uvMircAll,symbol:PLUS_UV,symbolSize:7.5,z:2,itemStyle:{color:'#000',opacity:1}},
    {type:'scatter',name:'_unused',xAxisIndex:0,yAxisIndex:0,data:[],z:2},
    {type:'scatter',name:'PIONIER',xAxisIndex:0,yAxisIndex:0,data:uvPionier,symbol:TRI,symbolSize:8.5,z:3,itemStyle:{color:'#0000ff',opacity:1}},
    {type:'scatter',name:'MIRC-X',xAxisIndex:1,yAxisIndex:1,data:visMirc,symbol:PLUS,symbolSize:12,z:2,itemStyle:{opacity:1}},
    {type:'scatter',name:'PIONIER',xAxisIndex:1,yAxisIndex:1,data:visPionier,symbol:TRI,symbolSize:16,z:3,itemStyle:{opacity:1}},
    {type:'custom',xAxisIndex:1,yAxisIndex:1,clip:true,z:4,silent:true,data:visMirc.concat(visPionier),renderItem:errItem(3.5),dimensions:['x','y','e','w'],encode:{x:0,y:1}},
    {type:'custom',xAxisIndex:2,yAxisIndex:2,clip:true,z:4,silent:true,data:cpMirc.concat(cpPionier),renderItem:errItem(3.5),dimensions:['x','y','e','w'],encode:{x:0,y:1}},
    {type:'scatter',name:'MIRC-X',xAxisIndex:2,yAxisIndex:2,data:cpMirc,symbol:PLUS,symbolSize:12,z:2,itemStyle:{opacity:1}},
    {type:'scatter',name:'PIONIER',xAxisIndex:2,yAxisIndex:2,data:cpPionier,symbol:TRI,symbolSize:16,z:3,itemStyle:{opacity:1}},
    {type:'custom',xAxisIndex:3,yAxisIndex:3,clip:true,silent:true,z:1,data:[[wlMin,wlMax]],
      renderItem:(p,api)=>{const a=api.coord([0,api.value(0)]),b=api.coord([1,api.value(1)]);
        return {type:'rect',shape:{x:a[0],y:b[1],width:b[0]-a[0],height:a[1]-b[1]},
          style:{fill:new echarts.graphic.LinearGradient(0,1,0,0,[{offset:0,color:'#00ffff'},{offset:1,color:'#ff00ff'}])}};}}
  ]
};
const chart=echarts.init(document.getElementById('c'),null,{renderer:'canvas',width:641,height:1636});
chart.setOption(option);
</script></body></html>
